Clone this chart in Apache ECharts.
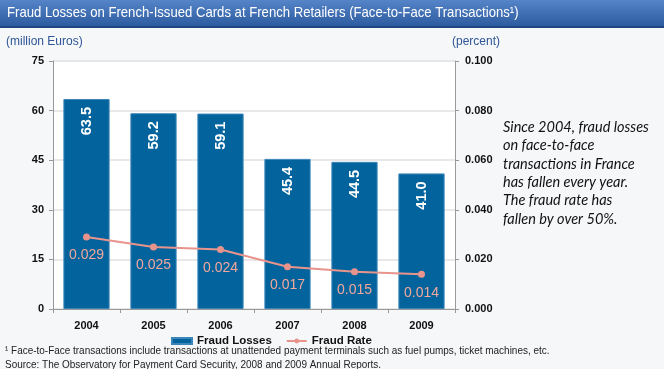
<!DOCTYPE html>
<html><head><meta charset="utf-8">
<script src="https://cdn.jsdelivr.net/npm/echarts@6/dist/echarts.min.js"></script>
<style>html,body{margin:0;padding:0;background:#f5f7f9}#c{width:664px;height:369px}</style>
</head><body><div id="c"></div>
<script>
const categories = ['2004','2005','2006','2007','2008','2009'];
const fraudLosses = [63.5, 59.2, 59.1, 45.4, 44.5, 41.0];
const fraudRate = [0.029, 0.025, 0.024, 0.017, 0.015, 0.014];
const titleText = 'Fraud Losses on French-Issued Cards at French Retailers (Face-to-Face Transactions\u00b9)';
const noteLines = ['Since 2004, fraud losses','on face-to-face','transactions in France','has fallen every year.','The fraud rate has','fallen by over 50%.'];
const footnote1 = '\u00b9 Face-to-Face transactions include transactions at unattended payment terminals such as fuel pumps, ticket machines, etc.';
const footnote2 = 'Source: The Observatory for Payment Card Security, 2008 and 2009 Annual Reports.';

const chart = echarts.init(document.getElementById('c'), null, {renderer:'canvas'});
const sans = '"Liberation Sans", Arial, sans-serif';
const graphics = [
  {type:'rect', left:0, top:0, shape:{width:664, height:27}, z:0,
   style:{fill:new echarts.graphic.LinearGradient(0,0,0,1,[{offset:0,color:'#5585c8'},{offset:1,color:'#2b5a9e'}])}},
  {type:'rect', left:0, top:26, shape:{width:664, height:2}, style:{fill:'#1f4680'}},
  {type:'text', x:7, y:5, scaleX:0.875, style:{text:titleText, fill:'#fff', font:'15px '+sans}},
  {type:'text', left:6, top:36, style:{text:'(million Euros)', fill:'#2f5597', font:'12px '+sans}},
  {type:'text', left:452, top:36, style:{text:'(percent)', fill:'#2f5597', font:'12px '+sans}},
  {type:'text', x:5, y:345, scaleX:0.905, style:{text:footnote1, fill:'#222', font:'11px '+sans}},
  {type:'text', x:5, y:359, scaleX:0.905, style:{text:footnote2, fill:'#222', font:'11px '+sans}}
];
noteLines.forEach((t,i)=>{
  graphics.push({type:'text', left:503, top:120+i*18.3, style:{text:t, fill:'#111', font:'italic 14.5px Lato, "Open Sans", sans-serif'}});
});

chart.setOption({
  backgroundColor:'#f5f7f9',
  animation:false,
  graphic: graphics,
  grid:{left:53, right:209, top:61, height:248, backgroundColor:'#ffffff', show:true, borderWidth:0},
  legend:{
    left:166, top:330, itemGap:14, itemWidth:20, itemHeight:6,
    textStyle:{fontWeight:'bold', fontSize:11.5, color:'#111', fontFamily:sans},
    data:[{name:'Fraud Losses', icon:'rect'}, {name:'Fraud Rate'}]
  },
  xAxis:{
    type:'category', data:categories,
    axisLine:{lineStyle:{color:'#999'}},
    axisTick:{show:true, length:4, lineStyle:{color:'#999'}},
    axisLabel:{fontWeight:'bold', fontSize:11, color:'#111', margin:11, fontFamily:sans}
  },
  yAxis:[
    {type:'value', min:0, max:75, interval:15,
     axisLine:{show:true, lineStyle:{color:'#999'}},
     axisTick:{show:true, length:4, lineStyle:{color:'#999'}},
     splitLine:{lineStyle:{color:'#e0e0e0', width:1.5}},
     axisLabel:{fontWeight:'bold', fontSize:11, color:'#111', margin:9, fontFamily:sans}},
    {type:'value', min:0, max:0.1, interval:0.02,
     axisLine:{show:true, lineStyle:{color:'#999'}},
     axisTick:{show:true, length:4, lineStyle:{color:'#999'}},
     splitLine:{show:false},
     axisLabel:{fontWeight:'bold', fontSize:11, color:'#111', margin:10, align:'left',
       formatter:v=>v.toFixed(3), fontFamily:sans}}
  ],
  series:[
    {name:'Fraud Losses', type:'bar', data:fraudLosses, barWidth:'69%', yAxisIndex:0,
     itemStyle:{color:'#03649d', borderColor:'#3b86b8', borderWidth:1},
     label:{show:true, position:'insideTop', rotate:90, align:'right', verticalAlign:'middle', distance:8,
       color:'#fff', fontWeight:'bold', fontSize:14.5, fontFamily:sans,
       formatter:p=>p.value.toFixed(1)}},
    {name:'Fraud Rate', type:'line', data:fraudRate, yAxisIndex:1,
     symbol:'circle', symbolSize:7,
     lineStyle:{color:'#e8948c', width:2}, itemStyle:{color:'#e8948c'},
     label:{show:true, position:'bottom', distance:8, color:'#f2a79c', fontSize:14,
       fontFamily:sans, formatter:p=>p.value.toFixed(3)}}
  ]
});
</script></body></html>
